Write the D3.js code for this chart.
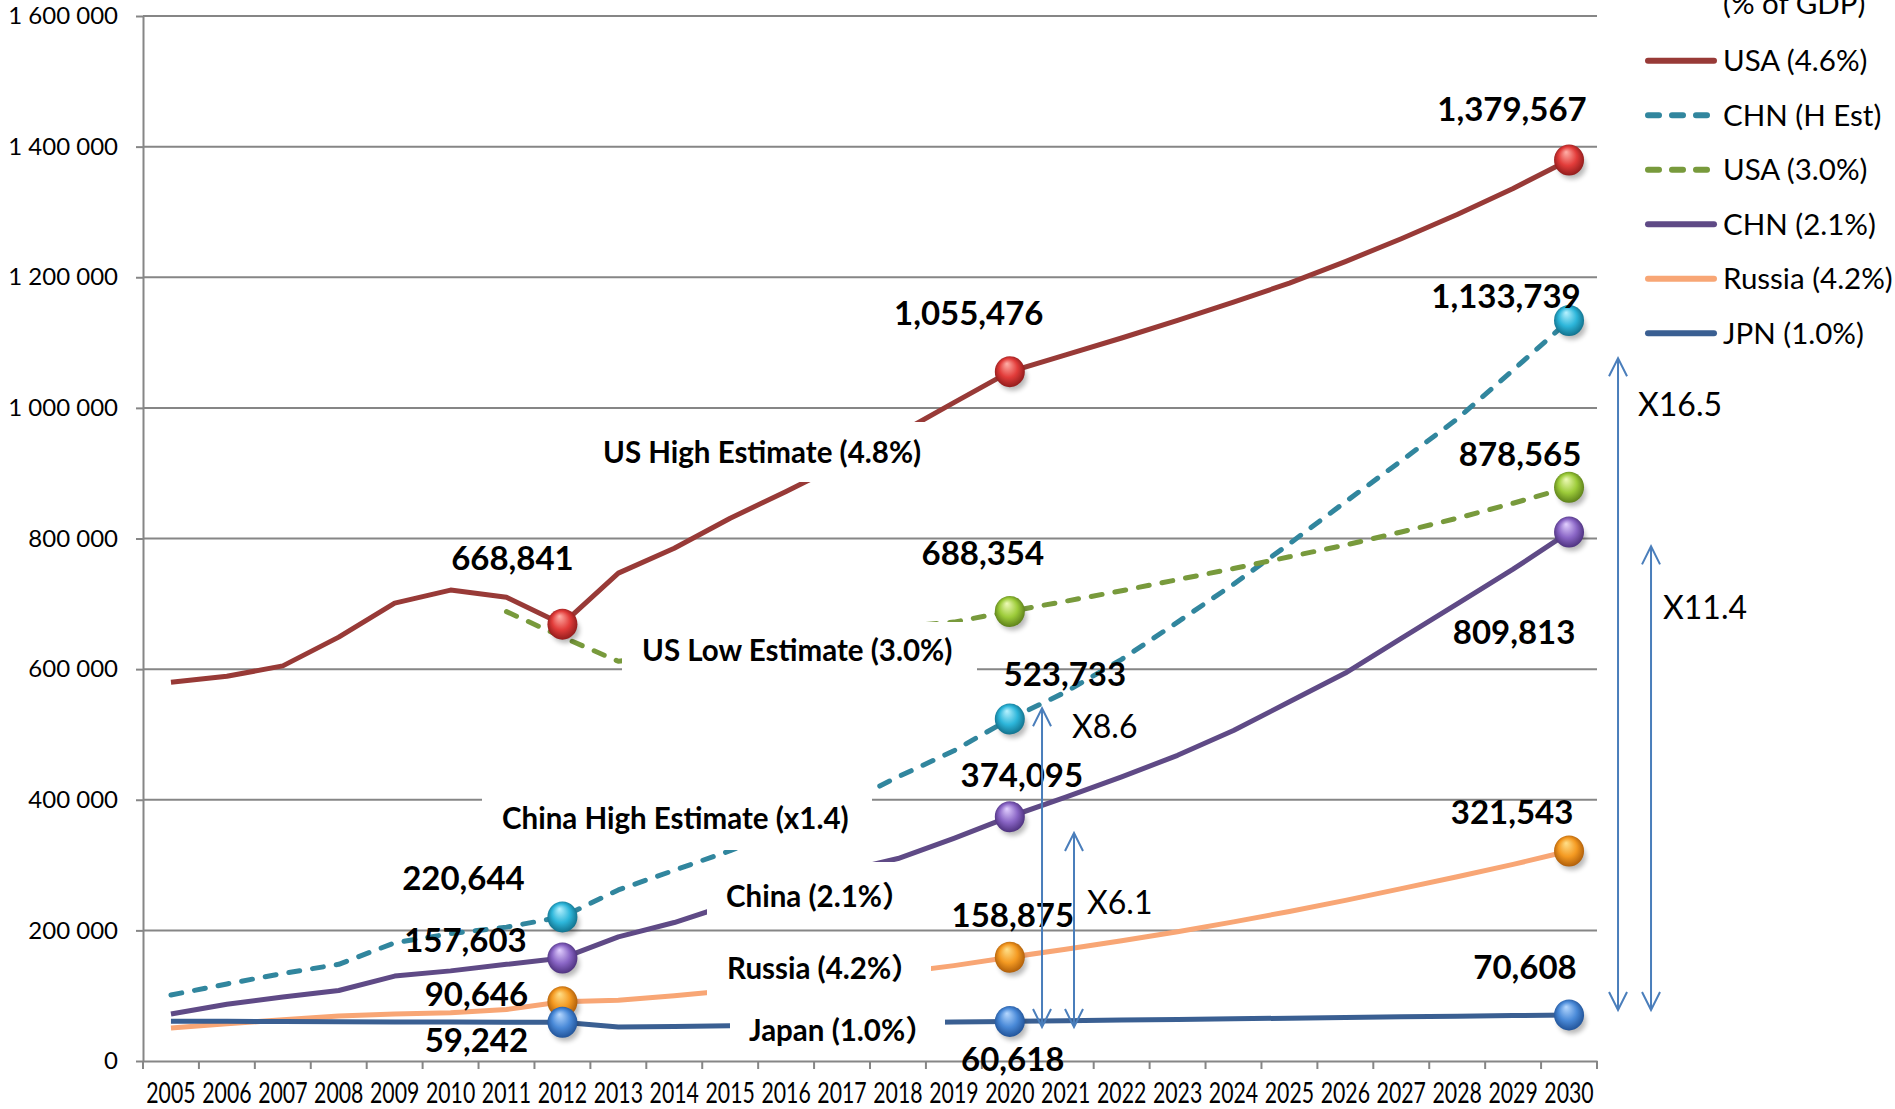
<!DOCTYPE html>
<html>
<head>
<meta charset="utf-8">
<script src="https://cdn.jsdelivr.net/npm/d3@7"></script>
<style>
  html, body { margin: 0; padding: 0; background: #ffffff; }
  svg { display: block; font-family: Lato, "Noto Sans CJK JP", "DejaVu Sans", sans-serif; }
</style>
</head>
<body>
<svg id="chart" width="1895" height="1109"></svg>
<script>
// ---- data: military spending projections, 2005-2030 ----
const years = ["2005","2006","2007","2008","2009","2010","2011","2012","2013","2014","2015","2016","2017",
               "2018","2019","2020","2021","2022","2023","2024","2025","2026","2027","2028","2029","2030"];

const usaHigh = [580000, 589000, 605000, 649000, 701000, 721000, 710000, 668841, 747000, 785000, 831000, 872000, 915000,
                 960000, 1008000, 1055476, 1081000, 1107000, 1134000, 1162000, 1191000, 1224000, 1259000, 1296000, 1336000, 1379567];
const chnHigh = [101000, 118000, 134000, 148000, 181000, 195000, 205000, 220644, 262000, 292000, 322000, 356000, 392000,
                 435000, 475000, 523733, 565000, 615000, 672000, 730000, 792000, 856000, 919000, 983000, 1058000, 1133739];
const usaLow  = [null, null, null, null, null, null, 688000, 649000, 612000, 622000, 632000, 643000, 654000,
                 665000, 672000, 688354, 704000, 720000, 737000, 754000, 772000, 790000, 810000, 831000, 854000, 878565];
const chn     = [72000, 87000, 98000, 108000, 130000, 138000, 148000, 157603, 190000, 212000, 240000, 265000, 290000,
                 310000, 341000, 374095, 404000, 435000, 468000, 506000, 550000, 594000, 647000, 700000, 753000, 809813];
const russia  = [50500, 57000, 63000, 69000, 72000, 74000, 79000, 90646, 93000, 100000, 108000, 116000, 125000,
                 135000, 146000, 158875, 171000, 184000, 198000, 213000, 229000, 246000, 264000, 282000, 301000, 321543];
const jpn     = [61000, 60800, 60500, 60000, 59800, 59600, 59400, 59242, 52000, 53000, 54000, 56000, 57000,
                 58500, 59800, 60618, 61600, 62600, 63600, 64600, 65600, 66600, 67600, 68600, 69600, 70608];

const yTickValues = [0, 200000, 400000, 600000, 800000, 1000000, 1200000, 1400000, 1600000];

const seriesNames = ["USA (4.6%)", "CHN (H Est)", "USA (3.0%)", "CHN (2.1%)", "Russia (4.2%)", "JPN (1.0%)"];
const seriesValues = [usaHigh, chnHigh, usaLow, chn, russia, jpn];
const markedYears = [["2012","2020","2030"], ["2012","2020","2030"], ["2020","2030"],
                     ["2012","2020","2030"], ["2012","2020","2030"], ["2012","2020","2030"]];

const annotationTexts = ["US High Estimate (4.8%)", "US Low Estimate (3.0%)", "China High Estimate (x1.4)",
                         "China (2.1%）", "Russia (4.2%）", "Japan (1.0%）"];

const ratioLabels = ["X8.6", "X6.1", "X16.5", "X11.4"];
const ratioYears  = ["2020", "2020", "2030", "2030"];
const ratioFrom   = [52000, 52000, 78000, 78000];
const ratioTo     = [540000, 349000, 1076000, 788000];

// ---- styling ----
const styles = [
  { color: "#983a37", dash: null,    ball: ["#ffb0a8", "#e23c3a", "#861818"] },
  { color: "#31869e", dash: "11,13", ball: ["#b8f2ff", "#2db6da", "#0e6882"] },
  { color: "#789a3c", dash: "11,13", ball: ["#eefab8", "#9dcc3a", "#557716"] },
  { color: "#5f4a86", dash: null,    ball: ["#e2d0ff", "#8a66c6", "#452a74"] },
  { color: "#f8a675", dash: null,    ball: ["#ffe08a", "#f49a22", "#a65606"] },
  { color: "#3a5f92", dash: null,    ball: ["#b6d8ff", "#4a8ad8", "#1c4c90"] }
];
// data label placement relative to each marker
const labelShift = [
  { "2012": [-50, -66], "2020": [-41, -58], "2030": [-57, -50] },
  { "2012": [-99, -38], "2020": [55, -44],  "2030": [-63, -24] },
  { "2020": [-27, -58], "2030": [-49, -33] },
  { "2012": [-97, -18], "2020": [12, -41],  "2030": [-55, 100] },
  { "2012": [-86, -7],  "2020": [3, -42],   "2030": [-57, -38] },
  { "2012": [-86, 18],  "2020": [3, 38],    "2030": [-44, -47] }
];
// text boxes with white fill (left, top, right, bottom) and text start / centre line
const annotationBoxes = [
  [590, 422, 935, 482], [622, 622, 977, 682], [482, 786, 872, 850],
  [707, 862, 905, 915], [707, 946, 931, 1003], [730, 1008, 945, 1050]
];
const annotationAnchor = [[603, 452], [642, 650], [502, 818], [726, 896], [727, 968], [749, 1030]];
const ratioShift = [0.576, 1.148, 0.876, 1.466];
const ratioTextPos = [[30, 18], [13, 69], [20, 46], [12, 61]];

const plot = { left: 143, right: 1597, top: 16, bottom: 1061 };
const gridColor = "#868686";

const svg = d3.select("#chart");
const defs = svg.append("defs");

const x = d3.scaleBand().domain(years).range([plot.left, plot.right]).padding(0);
const cx = yr => x(yr) + x.bandwidth() / 2;
const y = d3.scaleLinear().domain([0, 1600000]).range([plot.bottom, plot.top]);

// gradients for the ball markers
styles.forEach((s, i) => {
  const g = defs.append("radialGradient").attr("id", "ball" + i)
    .attr("cx", "50%").attr("cy", "50%").attr("r", "55%").attr("fx", "40%").attr("fy", "24%");
  g.append("stop").attr("offset", "0%").attr("stop-color", s.ball[0]);
  g.append("stop").attr("offset", "55%").attr("stop-color", s.ball[1]);
  g.append("stop").attr("offset", "100%").attr("stop-color", s.ball[2]);
});
const blur = defs.append("filter").attr("id", "shadow").attr("x", "-50%").attr("y", "-50%").attr("width", "200%").attr("height", "200%");
blur.append("feGaussianBlur").attr("stdDeviation", 2.5);

// gridlines
svg.append("g").selectAll("line").data(yTickValues.slice(1)).join("line")
  .attr("x1", plot.left).attr("x2", plot.right)
  .attr("y1", d => y(d)).attr("y2", d => y(d))
  .attr("stroke", gridColor).attr("stroke-width", 2);

// y axis
const yAxis = svg.append("g").attr("transform", `translate(${plot.left},0)`)
  .call(d3.axisLeft(y).tickValues(yTickValues).tickSize(7).tickSizeOuter(0).tickPadding(18)
    .tickFormat(d => d3.format(",")(d).replace(/,/g, " ")));
yAxis.select(".domain").attr("stroke", gridColor).attr("stroke-width", 2);
yAxis.selectAll(".tick line").attr("stroke", gridColor).attr("stroke-width", 2);
yAxis.selectAll(".tick text").attr("font-family", "Lato").attr("font-size", 24).attr("fill", "#000");

// x axis: condensed year labels
const xAxis = svg.append("g").attr("transform", `translate(0,${plot.bottom})`)
  .call(d3.axisBottom(x).tickSize(0).tickSizeOuter(0).tickPadding(22));
xAxis.select(".domain").attr("stroke", gridColor).attr("stroke-width", 2);
xAxis.selectAll(".tick text").attr("font-family", "Lato").attr("font-size", 28).attr("fill", "#000")
  .attr("transform", "scale(0.76,1)");
xAxis.selectAll(".tick line").remove();
xAxis.append("g").selectAll("line").data(years.map(yr => x(yr)).concat([plot.right])).join("line")
  .attr("x1", d => d).attr("x2", d => d).attr("y1", 0).attr("y2", 8)
  .attr("stroke", gridColor).attr("stroke-width", 2);

// series lines
const line = d3.line().defined(d => d.v != null).x(d => cx(d.yr)).y(d => y(d.v));
const linesG = svg.append("g");
seriesValues.forEach((vals, i) => {
  const pts = years.map((yr, j) => ({ yr, v: vals[j] }));
  linesG.append("path").datum(pts)
    .attr("d", line).attr("fill", "none")
    .attr("stroke", styles[i].color).attr("stroke-width", 5)
    .attr("stroke-linejoin", "round")
    .attr("stroke-linecap", styles[i].dash ? "round" : "butt")
    .attr("stroke-dasharray", styles[i].dash);
});

// white text boxes over the lines
const annG = svg.append("g");
annotationBoxes.forEach((b, i) => {
  annG.append("rect").attr("x", b[0]).attr("y", b[1]).attr("width", b[2] - b[0]).attr("height", b[3] - b[1])
    .attr("fill", "#ffffff");
  annG.append("text").attr("x", annotationAnchor[i][0]).attr("y", annotationAnchor[i][1] + 10.5)
    .attr("font-size", 29.5).attr("font-weight", 700).attr("fill", "#000")
    .text(annotationTexts[i]);
});

// markers and value labels
const markG = svg.append("g");
const labelG = svg.append("g");
seriesValues.forEach((vals, i) => {
  markedYears[i].forEach(yr => {
    const v = vals[years.indexOf(yr)];
    const px = cx(yr), py = y(v);
    markG.append("ellipse").attr("cx", px + 3).attr("cy", py + 6).attr("rx", 14).attr("ry", 13)
      .attr("fill", "#000").attr("opacity", 0.28).attr("filter", "url(#shadow)");
    markG.append("ellipse").attr("cx", px).attr("cy", py).attr("rx", 15).attr("ry", 15.5)
      .attr("fill", `url(#ball${i})`);
    const sh = labelShift[i][yr];
    labelG.append("text").attr("x", px + sh[0]).attr("y", py + sh[1] + 11.5)
      .attr("text-anchor", "middle").attr("font-size", 33).attr("font-weight", 700).attr("fill", "#000")
      .text(d3.format(",")(v));
  });
});

// ratio arrows
const arrowColor = "#4a7ebb";
const arrG = svg.append("g");
ratioLabels.forEach((lab, i) => {
  const ax = cx(ratioYears[i]) + ratioShift[i] * x.bandwidth();
  const yTop = y(ratioTo[i]), yBot = y(ratioFrom[i]);
  arrG.append("line").attr("x1", ax).attr("x2", ax).attr("y1", yTop).attr("y2", yBot)
    .attr("stroke", arrowColor).attr("stroke-width", 2);
  arrG.append("polyline").attr("points", `${ax - 9},${yTop + 18} ${ax},${yTop} ${ax + 9},${yTop + 18}`)
    .attr("fill", "none").attr("stroke", arrowColor).attr("stroke-width", 2);
  arrG.append("polyline").attr("points", `${ax - 9},${yBot - 18} ${ax},${yBot} ${ax + 9},${yBot - 18}`)
    .attr("fill", "none").attr("stroke", arrowColor).attr("stroke-width", 2);
  arrG.append("text").attr("x", ax + ratioTextPos[i][0]).attr("y", yTop + ratioTextPos[i][1] + 11.5)
    .attr("font-size", 32).attr("fill", "#000").text(lab);
});

// legend
const legend = svg.append("g").attr("transform", "translate(1645,0)");
legend.append("text").attr("x", 78).attr("y", 14).attr("font-size", 29.5).attr("fill", "#000").text("(% of GDP)");
seriesNames.forEach((name, i) => {
  const ly = 60.7 + i * 54.5;
  legend.append("line").attr("x1", 3).attr("x2", 69).attr("y1", ly).attr("y2", ly)
    .attr("stroke", styles[i].color).attr("stroke-width", 6).attr("stroke-linecap", "round")
    .attr("stroke-dasharray", styles[i].dash ? "11,13" : null);
  legend.append("text").attr("x", 78).attr("y", ly + 10.5).attr("font-size", 29.5).attr("fill", "#000").text(name);
});
</script>
</body>
</html>
